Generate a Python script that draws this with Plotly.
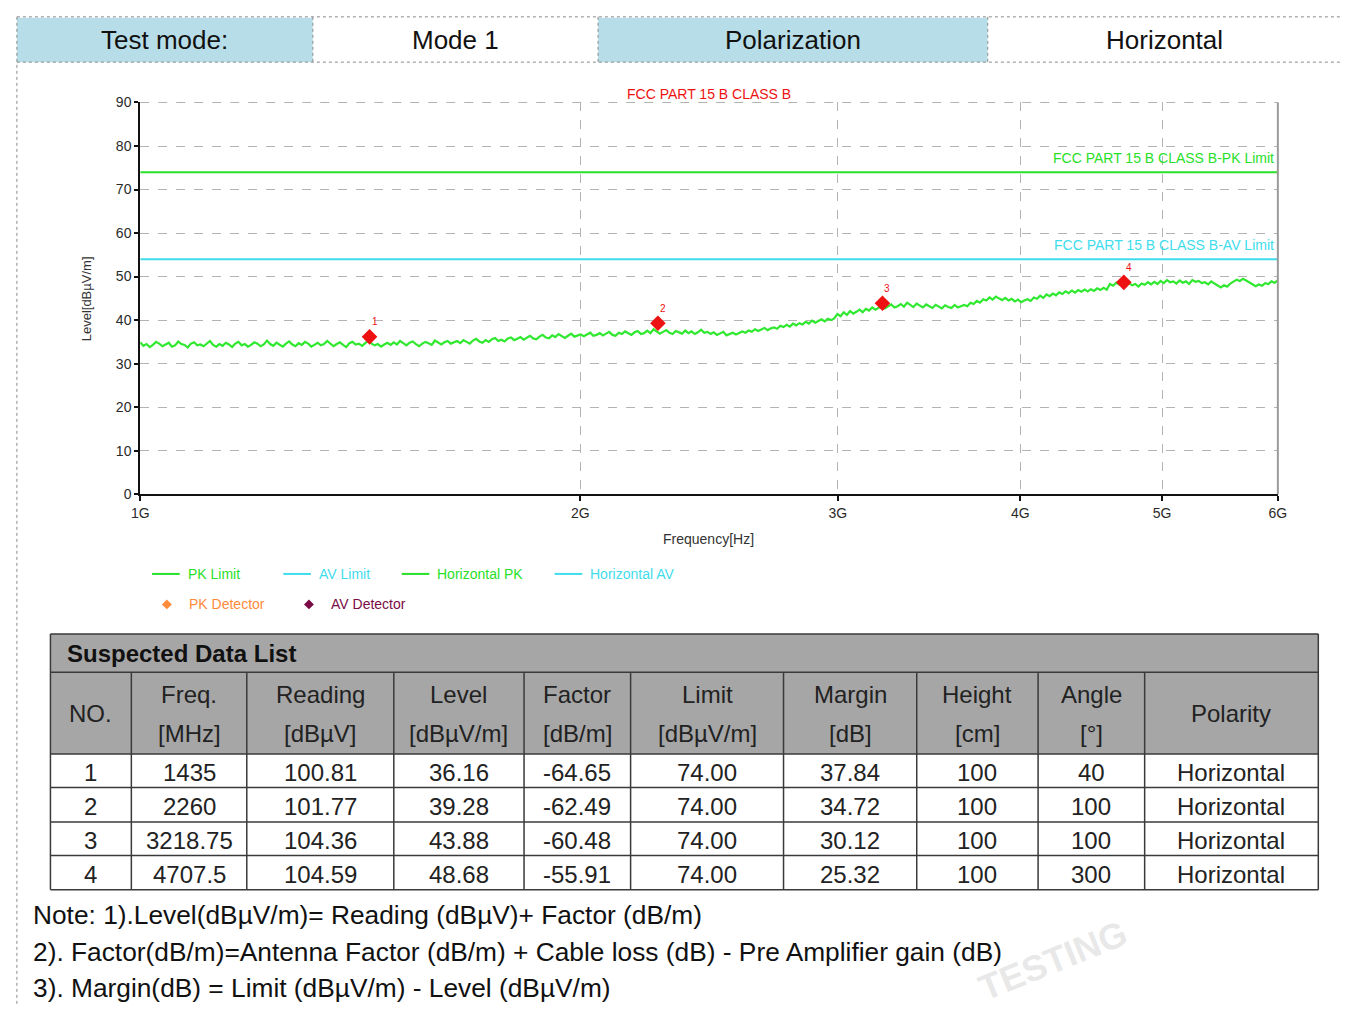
import math
import plotly.graph_objects as go

W, H = 1350, 1014
FONT = "Liberation Sans, Arial, Helvetica, sans-serif"

# ---------------- data ----------------
HEADER_LABELS = ["Test mode:", "Mode 1", "Polarization", "Horizontal"]

CHART_TITLE = "FCC PART 15 B CLASS B"
PK_LIMIT = 74
AV_LIMIT = 54
PK_LIMIT_LABEL = "FCC PART 15 B CLASS B-PK Limit"
AV_LIMIT_LABEL = "FCC PART 15 B CLASS B-AV Limit"
X_TITLE = "Frequency[Hz]"
Y_TITLE = "Level[dBµV/m]"
F_START_HZ = 1e9
F_STOP_HZ = 6e9
X_TICK_VALS = [1e9, 2e9, 3e9, 4e9, 5e9, 6e9]
X_TICK_TEXT = ["1G", "2G", "3G", "4G", "5G", "6G"]
Y_TICK_VALS = [0, 10, 20, 30, 40, 50, 60, 70, 80, 90]

TRACE_LEVEL = [
    34.9, 34.1, 34.5, 33.8, 34.3, 35.0, 34.6, 34.0, 34.4, 34.8, 33.9, 34.2, 35.1, 34.5, 34.3, 33.7, 34.6, 34.9, 34.2, 34.4,
    34.0, 34.7, 35.2, 34.3, 33.9, 34.5, 34.1, 34.8, 34.4, 33.8, 34.6, 35.0, 34.2, 34.5, 33.9, 34.3, 34.9, 34.6, 34.0, 34.4,
    35.3, 34.5, 34.1, 34.8, 34.3, 33.9, 34.6, 35.1, 34.4, 34.0, 34.7, 34.3, 35.0, 34.6, 33.9, 34.4, 34.8, 34.2, 34.5, 35.2,
    34.6, 34.0, 34.5, 34.9, 34.3, 33.8, 34.7, 35.0, 34.4, 34.6, 34.1, 34.8, 35.3, 34.6, 34.2, 34.5, 33.9, 34.4, 34.8, 34.3,
    34.9, 34.4, 35.2, 34.7, 34.2, 34.8, 35.1, 34.5, 34.0, 34.6, 35.0, 34.7, 34.3, 35.3, 34.8, 34.4, 34.9, 35.2, 34.6, 34.9,
    35.2, 34.7, 35.4, 35.0, 34.6, 35.3, 35.7, 35.1, 34.8, 35.4, 35.0, 35.6, 35.9, 35.2, 35.5, 35.1, 35.8, 36.0, 35.4, 35.7,
    36.1, 35.5, 35.9, 36.4, 35.8, 35.6, 36.2, 36.6, 36.0, 35.8, 36.5, 36.1, 36.8, 36.3, 35.9, 36.4, 36.9, 36.2, 36.5, 36.7,
    36.3, 36.8, 37.1, 36.4, 36.6, 37.0, 36.5, 36.9, 37.3, 36.6, 36.4, 37.1, 36.8, 37.4, 36.9, 36.6, 37.2, 37.5, 36.8, 37.0,
    37.6, 37.0, 37.9, 37.4, 36.9, 37.3, 37.7, 37.1, 36.8, 37.5, 37.2, 36.9, 37.6, 37.0, 37.4, 36.8, 37.2, 37.8, 37.1, 37.3,
    36.8, 37.2, 36.6, 36.9, 37.3, 36.5, 36.8, 37.1, 36.7, 37.0, 37.4, 37.1, 37.6, 37.3, 37.9, 37.5, 37.8, 38.2, 37.7, 38.1,
    38.3, 38.0, 38.7, 38.4, 38.9, 38.5, 39.2, 38.8, 39.3, 39.0, 39.6, 39.2, 39.9, 39.4, 39.8, 40.2, 39.7, 40.3, 40.0, 40.4,
    41.4, 40.9, 41.8, 41.2, 42.1, 41.5, 41.9, 42.4, 41.8, 42.6, 42.2, 42.9, 42.4, 42.8, 43.3, 42.7, 43.1, 43.6, 42.9, 43.2,
    43.7, 43.1, 44.0, 43.4, 43.0, 43.8, 43.3, 42.9, 43.6, 43.2, 42.8, 43.5, 43.1, 42.7, 43.4, 43.0, 42.8, 43.5, 42.9, 43.2,
    43.5, 43.2, 44.0, 43.7, 44.4, 44.0, 44.8, 44.5, 45.2, 44.7, 45.4, 45.0, 44.6, 45.1, 44.5, 44.9, 44.3, 44.7, 44.1, 44.5,
    44.8, 44.4, 45.2, 44.9, 45.6, 45.1, 45.9, 45.5, 46.1, 45.7, 46.4, 46.0, 46.6, 46.2, 46.8, 46.3, 46.9, 46.5, 47.0, 46.6,
    47.1, 46.7, 47.3, 46.9, 47.4, 47.0, 48.3, 47.9, 48.6, 48.1, 48.4, 47.8, 48.5, 48.0, 48.3, 47.7, 48.4, 48.1, 48.7, 48.2,
    48.8, 48.3, 49.0, 48.5, 49.2, 48.7, 48.9, 48.4, 49.1, 48.6, 48.9, 48.3, 49.2, 48.8, 49.0, 48.5, 48.7, 48.2, 48.9, 48.4,
    47.9, 47.5, 48.0, 47.7, 48.4, 48.8, 49.3, 49.0, 49.5, 49.1, 48.6, 48.1, 47.8, 48.2, 47.9, 48.5, 48.3, 48.9, 48.6, 49.1,
]
# sweep points, log-spaced between start and stop frequency
N_PTS = len(TRACE_LEVEL)
TRACE_FREQ = [F_START_HZ * (F_STOP_HZ / F_START_HZ) ** (i / (N_PTS - 1)) for i in range(N_PTS)]

MARK_NO = [1, 2, 3, 4]
MARK_FREQ_MHZ = [1435, 2260, 3218.75, 4707.5]
MARK_READING = [100.81, 101.77, 104.36, 104.59]
MARK_LEVEL = [36.16, 39.28, 43.88, 48.68]
MARK_FACTOR = [-64.65, -62.49, -60.48, -55.91]
MARK_LIMIT = [74.00, 74.00, 74.00, 74.00]
MARK_MARGIN = [37.84, 34.72, 30.12, 25.32]
MARK_HEIGHT = [100, 100, 100, 100]
MARK_ANGLE = [40, 100, 100, 300]
MARK_POLARITY = ["Horizontal", "Horizontal", "Horizontal", "Horizontal"]

TABLE_TITLE = "Suspected Data List"
COL_HEAD_1 = ["NO.", "Freq.", "Reading", "Level", "Factor", "Limit", "Margin", "Height", "Angle", "Polarity"]
COL_HEAD_2 = ["", "[MHz]", "[dBµV]", "[dBµV/m]", "[dB/m]", "[dBµV/m]", "[dB]", "[cm]", "[°]", ""]

LEGEND_ROW1 = ["PK Limit", "AV Limit", "Horizontal PK", "Horizontal AV"]
LEGEND_ROW2 = ["PK Detector", "AV Detector"]

NOTES = [
    "Note: 1).Level(dBµV/m)= Reading (dBµV)+ Factor (dB/m)",
    "2). Factor(dB/m)=Antenna Factor (dB/m) + Cable loss (dB) - Pre Amplifier gain (dB)",
    "3). Margin(dB) = Limit (dBµV/m) - Level (dBµV/m)",
]

# ---------------- styles ----------------
GREEN = "#28e028"
TRACE_GREEN = "#2fe82f"
CYAN = "#3fdcec"
RED = "#ee1111"
ORANGE = "#ff8a3a"
PURPLE = "#7a0b45"
HEAD_BLUE = "#b7dee8"
TABLE_GRAY = "#a6a6a6"
DOT = "#8a8a8a"
GRID = "#b3b3b3"


def PX(x):
    return x / W


def PY(y):
    return 1 - y / H


shapes = []
annotations = []


def pline(x0, y0, x1, y1, color, width=1, dash="solid"):
    shapes.append(dict(type="line", xref="paper", yref="paper",
                       x0=PX(x0), y0=PY(y0), x1=PX(x1), y1=PY(y1),
                       line=dict(color=color, width=width, dash=dash)))


def prect(x0, y0, x1, y1, fill):
    shapes.append(dict(type="rect", xref="paper", yref="paper",
                       x0=PX(x0), y0=PY(y0), x1=PX(x1), y1=PY(y1),
                       fillcolor=fill, line=dict(width=0), layer="below"))


def ptext(x, y, text, size, color="#111111", xanchor="center", bold=False, angle=0):
    annotations.append(dict(xref="paper", yref="paper", x=PX(x), y=PY(y),
                            text=f"<b>{text}</b>" if bold else text,
                            showarrow=False, xanchor=xanchor, yanchor="middle",
                            textangle=angle,
                            font=dict(family=FONT, size=size, color=color)))


# ---------------- header row ----------------
HEAD_EDGES = [8, 308, 597, 992, 1350]
HEAD_FILLS = [HEAD_BLUE, "white", HEAD_BLUE, "white"]
for i, lab in enumerate(HEADER_LABELS):
    prect(HEAD_EDGES[i], 10, HEAD_EDGES[i + 1], 55, HEAD_FILLS[i])
    ptext((HEAD_EDGES[i] + HEAD_EDGES[i + 1]) / 2, 33, lab, 26)
pline(8, 9, 1350, 9, DOT, 1, "dot")
pline(8, 55, 1350, 55, DOT, 1, "dot")
for x in HEAD_EDGES[1:-1]:
    pline(x, 9, x, 55, DOT, 1, "dot")
pline(8, 9, 8, 1014, DOT, 1, "dot")

# ---------------- chart ----------------
x_dom = [PX(133), PX(1286)]
y_dom = [PY(494), PY(96)]

fig = go.Figure()
fig.add_trace(go.Scatter(x=[F_START_HZ, F_STOP_HZ], y=[PK_LIMIT, PK_LIMIT], mode="lines",
                         line=dict(color=GREEN, width=2), hoverinfo="skip"))
fig.add_trace(go.Scatter(x=[F_START_HZ, F_STOP_HZ], y=[AV_LIMIT, AV_LIMIT], mode="lines",
                         line=dict(color=CYAN, width=2), hoverinfo="skip"))
fig.add_trace(go.Scatter(x=TRACE_FREQ, y=TRACE_LEVEL, mode="lines",
                         line=dict(color=TRACE_GREEN, width=2.2)))
fig.add_trace(go.Scatter(x=[f * 1e6 for f in MARK_FREQ_MHZ], y=MARK_LEVEL, mode="markers",
                         marker=dict(symbol="diamond", size=12, color=RED)))

# top dashed gridline at 90 and solid right border at 6G
shapes.append(dict(type="line", xref="x domain", yref="y domain", x0=0, x1=1, y0=1, y1=1,
                   line=dict(color=GRID, width=1, dash="dash")))
shapes.append(dict(type="line", xref="x domain", yref="y domain", x0=1, x1=1, y0=0, y1=1,
                   line=dict(color="#9a9a9a", width=2)))

# marker numbers
for n, f, lv in zip(MARK_NO, MARK_FREQ_MHZ, MARK_LEVEL):
    annotations.append(dict(xref="x", yref="y", x=math.log10(f * 1e6), y=lv, text=str(n),
                            showarrow=False, xshift=5, yshift=15,
                            font=dict(family=FONT, size=10, color=RED)))

# limit labels
annotations.append(dict(xref="x", yref="y", x=math.log10(F_STOP_HZ), y=PK_LIMIT, text=PK_LIMIT_LABEL,
                        showarrow=False, xanchor="right", yanchor="middle", xshift=-2, yshift=14,
                        font=dict(family=FONT, size=14, color=GREEN)))
annotations.append(dict(xref="x", yref="y", x=math.log10(F_STOP_HZ), y=AV_LIMIT, text=AV_LIMIT_LABEL,
                        showarrow=False, xanchor="right", yanchor="middle", xshift=-2, yshift=14,
                        font=dict(family=FONT, size=14, color=CYAN)))

ptext(709, 87, CHART_TITLE, 14, RED)
ptext(709, 540, X_TITLE, 14, "#333333")
ptext(78, 295, Y_TITLE, 13, "#333333", angle=-90)

# ---------------- legend ----------------
LEG1_X = [145, 278, 398, 553]
LEG1_COL = [GREEN, CYAN, GREEN, CYAN]
for x, lab, col in zip(LEG1_X, LEGEND_ROW1, LEG1_COL):
    pline(x, 575, x + 28, 575, col, 2)
    ptext(x + 34, 575, lab, 14, col, xanchor="left")
LEG2_X = [160, 304]
LEG2_COL = [ORANGE, PURPLE]
for x, lab, col in zip(LEG2_X, LEGEND_ROW2, LEG2_COL):
    s = 5
    shapes.append(dict(type="path", xref="paper", yref="paper",
                       path=f"M {PX(x)} {PY(606 - s)} L {PX(x + s)} {PY(606)} L {PX(x)} {PY(606 + s)} L {PX(x - s)} {PY(606)} Z",
                       fillcolor=col, line=dict(width=0)))
    ptext(x + 20, 606, lab, 14, col, xanchor="left")

# ---------------- data table ----------------
COL_EDGES = [42, 124, 241, 390, 522, 630, 785, 920, 1043, 1151, 1327]
T_TOP, T_HEAD, T_BODY = 636, 675, 758
ROW_EDGES = [758, 792, 827, 861, 896]
BORDER = "#3a3a3a"

prect(COL_EDGES[0], T_TOP, COL_EDGES[-1], T_BODY, TABLE_GRAY)
ptext(57, 656, TABLE_TITLE, 24, "#111111", xanchor="left", bold=True)
for y in [T_TOP, T_HEAD] + ROW_EDGES:
    pline(COL_EDGES[0], y, COL_EDGES[-1], y, BORDER, 1.5)
pline(COL_EDGES[0], T_TOP, COL_EDGES[0], ROW_EDGES[-1], BORDER, 1.5)
pline(COL_EDGES[-1], T_TOP, COL_EDGES[-1], ROW_EDGES[-1], BORDER, 1.5)
for x in COL_EDGES[1:-1]:
    pline(x, T_HEAD, x, ROW_EDGES[-1], BORDER, 1.5)

for i in range(len(COL_HEAD_1)):
    cx = (COL_EDGES[i] + COL_EDGES[i + 1]) / 2
    if COL_HEAD_2[i]:
        ptext(cx, 698, COL_HEAD_1[i], 24, "#222222")
        ptext(cx, 737, COL_HEAD_2[i], 24, "#222222")
    else:
        ptext(cx, 717, COL_HEAD_1[i], 24, "#222222")

rows = []
for k in range(len(MARK_NO)):
    rows.append([
        str(MARK_NO[k]), f"{MARK_FREQ_MHZ[k]:g}", f"{MARK_READING[k]:.2f}", f"{MARK_LEVEL[k]:.2f}",
        f"{MARK_FACTOR[k]:.2f}", f"{MARK_LIMIT[k]:.2f}", f"{MARK_MARGIN[k]:.2f}",
        str(MARK_HEIGHT[k]), str(MARK_ANGLE[k]), MARK_POLARITY[k],
    ])
for r, row in enumerate(rows):
    cy = (ROW_EDGES[r] + ROW_EDGES[r + 1]) / 2 + 2
    for i, val in enumerate(row):
        cx = (COL_EDGES[i] + COL_EDGES[i + 1]) / 2
        ptext(cx, cy, val, 24, "#222222")

# ---------------- notes ----------------
for y, note in zip([922, 959, 996], NOTES):
    ptext(22, y, note, 26.3, "#111111", xanchor="left")

# watermark
ptext(1058, 968, "TESTING", 36, "rgba(190,190,190,0.35)", bold=True, angle=-22)

fig.update_layout(
    width=W, height=H, margin=dict(l=0, r=0, t=0, b=0),
    paper_bgcolor="white", plot_bgcolor="white", showlegend=False,
    shapes=shapes, annotations=annotations,
    xaxis=dict(type="log", domain=x_dom, range=[math.log10(F_START_HZ), math.log10(F_STOP_HZ)],
               tickvals=X_TICK_VALS, ticktext=X_TICK_TEXT, showgrid=True, gridcolor=GRID,
               griddash="dash", gridwidth=1, showline=True, linecolor="#111111", linewidth=2,
               ticks="outside", ticklen=5, tickwidth=1.5, tickcolor="#111111",
               tickfont=dict(family=FONT, size=14, color="#2a2a2a"), zeroline=False),
    yaxis=dict(domain=y_dom, range=[0, 90], tickvals=Y_TICK_VALS, showgrid=True, gridcolor=GRID,
               griddash="dash", gridwidth=1, showline=True, linecolor="#111111", linewidth=2,
               ticks="outside", ticklen=4, tickwidth=2, tickcolor="#111111",
               tickfont=dict(family=FONT, size=14, color="#2a2a2a"), zeroline=False),
)

fig.write_html(
    "out.html",
    config={"displayModeBar": False},
    post_script=(
        "var h=document.documentElement,b=document.body;"
        "h.style.margin='0';h.style.padding='0';h.style.overflow='hidden';"
        "b.style.margin='0';b.style.padding='0';b.style.overflow='hidden';"
    ),
)
